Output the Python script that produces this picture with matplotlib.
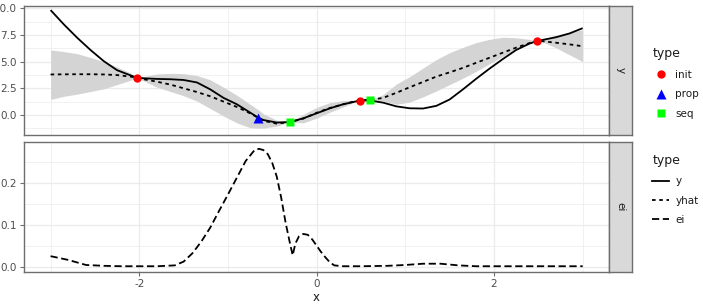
import numpy as np
import matplotlib.pyplot as plt
from matplotlib.lines import Line2D

# x grid for the objective / surrogate curves
x = [-3.0, -2.85, -2.7, -2.55, -2.4, -2.25, -2.1, -2.03, -1.95, -1.8, -1.65, -1.5,
     -1.35, -1.2, -1.05, -0.9, -0.75, -0.66, -0.6, -0.45, -0.3, -0.15, 0.0, 0.15,
     0.3, 0.49, 0.6, 0.75, 0.9, 1.05, 1.2, 1.35, 1.5, 1.65, 1.8, 1.95, 2.1, 2.25,
     2.4, 2.49, 2.55, 2.7, 2.85, 3.0]
y = [9.85, 8.5, 7.25, 6.1, 5.05, 4.2, 3.72, 3.5, 3.44, 3.38, 3.35, 3.28,
     3.05, 2.4, 1.6, 1.0, 0.22, -0.26, -0.48, -0.72, -0.67, -0.32, 0.15, 0.62,
     1.0, 1.35, 1.35, 1.15, 0.8, 0.62, 0.6, 0.85, 1.45, 2.4, 3.4, 4.35, 5.25, 6.1,
     6.7, 6.95, 7.05, 7.3, 7.65, 8.15]
yhat = [3.8, 3.81, 3.82, 3.82, 3.8, 3.74, 3.6, 3.5, 3.35, 3.12, 2.85, 2.5,
        2.15, 1.75, 1.25, 0.75, 0.15, -0.26, -0.55, -0.82, -0.67, -0.35, 0.2, 0.65,
        1.0, 1.4, 1.4, 1.6, 2.08, 2.6, 3.1, 3.6, 4.0, 4.42, 4.9, 5.37, 5.85, 6.32,
        6.75, 6.95, 6.92, 6.78, 6.63, 6.45]
band_lo = [1.45, 1.75, 1.95, 2.2, 2.45, 2.85, 3.25, 3.5, 3.2, 2.6, 2.2, 1.8,
           1.3, 0.6, -0.1, -0.75, -1.2, -1.25, -1.25, -1.05, -0.67, -0.75, -0.3, 0.25,
           0.75, 1.4, 1.4, 1.3, 1.0, 1.2, 1.7, 2.25, 2.85, 3.45, 4.1, 4.8, 5.5, 6.15,
           6.7, 6.95, 6.85, 6.3, 5.65, 5.0]
band_hi = [6.1, 5.95, 5.75, 5.4, 5.0, 4.5, 3.95, 3.5, 3.6, 3.85, 3.9, 3.88,
           3.7, 3.3, 2.6, 1.85, 1.0, 0.5, 0.1, -0.5, -0.67, 0.05, 0.7, 1.15,
           1.35, 1.4, 1.4, 1.9, 2.9, 3.6, 4.4, 5.2, 5.85, 6.35, 6.8, 7.1, 7.3, 7.25,
           7.1, 6.95, 7.1, 7.5, 7.75, 8.0]

# expected improvement
ei_x = [-3.0, -2.8, -2.6, -2.4, -2.2, -2.0, -1.8, -1.7, -1.6, -1.5, -1.4, -1.3,
        -1.2, -1.1, -1.0, -0.9, -0.8, -0.7, -0.65, -0.6, -0.55, -0.5, -0.45, -0.4,
        -0.35, -0.3, -0.27, -0.24, -0.2, -0.15, -0.1, -0.05, 0.0, 0.05, 0.1, 0.15,
        0.2, 0.3, 0.5, 0.8, 1.0, 1.2, 1.4, 1.6, 1.8, 2.2, 2.6, 3.0]
ei = [0.025, 0.016, 0.004, 0.002, 0.001, 0.001, 0.001, 0.002, 0.003, 0.012, 0.032, 0.060,
      0.093, 0.133, 0.172, 0.212, 0.252, 0.278, 0.281, 0.278, 0.268, 0.247, 0.215, 0.165,
      0.105, 0.055, 0.027, 0.055, 0.072, 0.078, 0.076, 0.065, 0.05, 0.035, 0.022, 0.01,
      0.003, 0.001, 0.001, 0.002, 0.004, 0.007, 0.007, 0.003, 0.001, 0.001, 0.001, 0.001]

# design points
init_x = [-2.03, 0.49, 2.49]
init_y = [3.5, 1.35, 6.95]
prop_x = [-0.66]
prop_y = [-0.26]
seq_x = [-0.30, 0.60]
seq_y = [-0.67, 1.38]

tick_col = '#4D4D4D'
border_col = '#6E6E6E'
grid_col = '#EBEBEB'
lw = 1.3

fig = plt.figure(figsize=(7.03, 3.04), dpi=100)
ax1 = fig.add_axes([0.0341, 0.5559, 0.8326, 0.426])
ax2 = fig.add_axes([0.0341, 0.1063, 0.8326, 0.4276])


def style(ax, yticks, ylabels, yminor):
    ax.set_xlim(-3.3, 3.3)
    ax.set_xticks([-2, 0, 2])
    ax.set_xticks([-3, -1, 1, 3], minor=True)
    ax.set_yticks(yticks)
    ax.set_yticklabels(ylabels)
    ax.set_yticks(yminor, minor=True)
    ax.grid(True, which='major', color=grid_col, lw=0.9)
    ax.grid(True, which='minor', color=grid_col, lw=0.5)
    ax.set_axisbelow(True)
    for s in ax.spines.values():
        s.set_color(border_col)
        s.set_linewidth(1.0)
    ax.tick_params(which='major', length=3, width=0.8, color=border_col,
                   labelcolor=tick_col, labelsize=7.5, pad=2)
    ax.tick_params(which='minor', length=0)


style(ax1, [0, 2.5, 5, 7.5, 10], ['0.0', '2.5', '5.0', '7.5', '10.0'],
      [-1.25, 1.25, 3.75, 6.25, 8.75])
ax1.set_ylim(-1.89, 10.28)
ax1.tick_params(axis='x', which='both', length=0, labelbottom=False)

style(ax2, [0, 0.1, 0.2], ['0.0', '0.1', '0.2'], [0.05, 0.15, 0.25])
ax2.set_ylim(-0.012, 0.298)
ax2.set_xticklabels(['-2', '0', '2'])
ax2.set_xlabel('x', fontsize=8.5, color='#1A1A1A', labelpad=2)

# top panel
ax1.fill_between(x, band_lo, band_hi, color='#D4D4D4', lw=0)
ax1.plot(x, y, color='black', lw=lw, solid_capstyle='butt')
ax1.plot(x, yhat, color='black', lw=lw, dashes=(2, 2))
ax1.plot(init_x, init_y, 'o', color='#FF0000', ms=6, mec='none')
ax1.plot(prop_x, prop_y, '^', color='#0000FF', ms=7, mec='none')
ax1.plot(seq_x, seq_y, 's', color='#00FF00', ms=6, mec='none')

# bottom panel
ax2.plot(ei_x, ei, color='black', lw=lw, dashes=(4, 2))

# facet strips
for bottom, h, lab in [(0.5559, 0.426, 'y'), (0.1063, 0.4276, 'ei')]:
    sax = fig.add_axes([0.8667, bottom, 0.0327, h])
    sax.set_facecolor('#D9D9D9')
    sax.set_xticks([])
    sax.set_yticks([])
    for s in sax.spines.values():
        s.set_color(border_col)
        s.set_linewidth(1.0)
    sax.text(0.5, 0.5, lab, rotation=270, ha='center', va='center',
             fontsize=7.5, color='#1A1A1A', transform=sax.transAxes)

# legends
pt_handles = [
    Line2D([], [], ls='none', marker='o', color='#FF0000', ms=6, mec='none'),
    Line2D([], [], ls='none', marker='^', color='#0000FF', ms=7, mec='none'),
    Line2D([], [], ls='none', marker='s', color='#00FF00', ms=6, mec='none'),
]
leg1 = fig.legend(pt_handles, ['init', 'prop', 'seq'], title='type',
                  loc='upper left', bbox_to_anchor=(645 / 703, 1 - 40 / 304),
                  frameon=False, fontsize=7.5, title_fontsize=9,
                  handlelength=1.6, handletextpad=0.6, labelspacing=0.92,
                  alignment='left', borderpad=0.2)
ln_handles = [
    Line2D([], [], color='black', lw=lw),
    Line2D([], [], color='black', lw=lw, dashes=(2, 2)),
    Line2D([], [], color='black', lw=lw, dashes=(4, 2)),
]
leg2 = fig.legend(ln_handles, ['y', 'yhat', 'ei'], title='type',
                  loc='upper left', bbox_to_anchor=(645 / 703, 1 - 147 / 304),
                  frameon=False, fontsize=7.5, title_fontsize=9,
                  handlelength=1.6, handletextpad=0.6, labelspacing=0.88,
                  alignment='left', borderpad=0.2)
for lg in (leg1, leg2):
    lg.get_title().set_color('#1A1A1A')
    for t in lg.get_texts():
        t.set_color('#1A1A1A')

fig.savefig('out.png', dpi=100)
